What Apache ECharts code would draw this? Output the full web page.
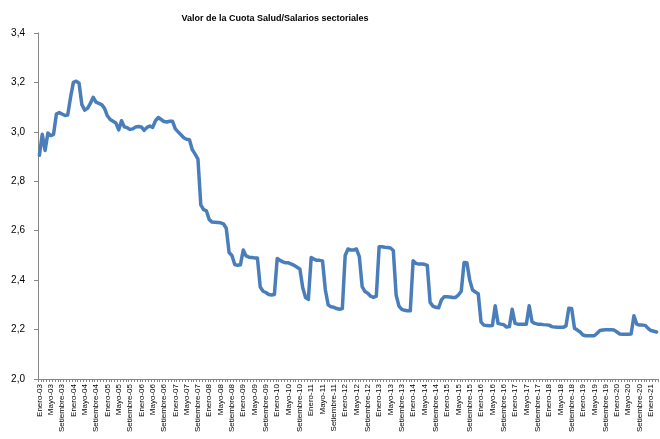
<!DOCTYPE html>
<html>
<head>
<meta charset="utf-8">
<script src="https://cdn.jsdelivr.net/npm/echarts@6/dist/echarts.min.js"></script>
<style>
  html, body { margin: 0; padding: 0; background: #fff; }
  #chart { width: 660px; height: 439px; }
</style>
</head>
<body>
<div id="chart"></div>
<script>
// --- Data ---
const monthNames = ['Enero', 'Febrero', 'Marzo', 'Abril', 'Mayo', 'Junio',
    'Julio', 'Agosto', 'Setiembre', 'Octubre', 'Noviembre', 'Diciembre'];
const years = ['03', '04', '05', '06', '07', '08', '09', '10', '11', '12',
    '13', '14', '15', '16', '17', '18', '19', '20', '21'];

// Cuota Salud / Salarios sectoriales, monthly from Enero-03 to Marzo-21
const cuotaSalud = [
    2.905, 2.99, 2.925, 2.995, 2.985, 2.99, 3.072, 3.078, 3.072, 3.066, 3.068, 3.14,     // 2003
    3.2, 3.205, 3.197, 3.11, 3.088, 3.095, 3.115, 3.14, 3.12, 3.115, 3.11, 3.095,         // 2004
    3.065, 3.05, 3.043, 3.036, 3.008, 3.045, 3.02, 3.017, 3.01, 3.012, 3.02, 3.022,       // 2005
    3.02, 3.006, 3.018, 3.024, 3.018, 3.045, 3.058, 3.05, 3.042, 3.04, 3.043, 3.043,      // 2006
    3.012, 3.0, 2.988, 2.976, 2.97, 2.968, 2.928, 2.91, 2.89, 2.705, 2.685, 2.68,         // 2007
    2.645, 2.635, 2.634, 2.633, 2.632, 2.628, 2.61, 2.512, 2.5, 2.463, 2.46, 2.462,       // 2008
    2.522, 2.498, 2.493, 2.492, 2.49, 2.49, 2.372, 2.355, 2.35, 2.342, 2.34, 2.342,       // 2009
    2.488, 2.48, 2.474, 2.47, 2.47, 2.465, 2.46, 2.452, 2.445, 2.37, 2.33, 2.322,         // 2010
    2.492, 2.485, 2.48, 2.48, 2.478, 2.36, 2.3, 2.292, 2.29, 2.285, 2.282, 2.285,         // 2011
    2.5, 2.526, 2.522, 2.522, 2.526, 2.495, 2.374, 2.354, 2.347, 2.335, 2.33, 2.335,      // 2012
    2.535, 2.535, 2.533, 2.532, 2.53, 2.52, 2.34, 2.295, 2.282, 2.278, 2.276, 2.276,      // 2013
    2.478, 2.468, 2.465, 2.465, 2.464, 2.46, 2.31, 2.295, 2.29, 2.288, 2.32, 2.333,       // 2014
    2.333, 2.332, 2.33, 2.33, 2.34, 2.355, 2.471, 2.47, 2.40, 2.36, 2.352, 2.345,         // 2015
    2.23, 2.218, 2.216, 2.215, 2.216, 2.296, 2.225, 2.222, 2.22, 2.21, 2.212, 2.282,      // 2016
    2.225, 2.222, 2.222, 2.222, 2.222, 2.296, 2.232, 2.225, 2.222, 2.222, 2.22, 2.219,    // 2017
    2.218, 2.212, 2.21, 2.209, 2.209, 2.209, 2.215, 2.286, 2.285, 2.205, 2.198, 2.19,     // 2018
    2.178, 2.175, 2.175, 2.175, 2.175, 2.185, 2.196, 2.198, 2.199, 2.199, 2.199, 2.198,   // 2019
    2.19, 2.182, 2.181, 2.181, 2.181, 2.182, 2.256, 2.222, 2.218, 2.218, 2.217, 2.205,    // 2020
    2.196, 2.193, 2.19                                                                    // 2021
];

// category labels "Mes-AA", one per data point
const categories = [];
years.forEach((yy) => {
    monthNames.forEach((mes) => {
        if (categories.length < cuotaSalud.length) categories.push(`${mes}-${yy}`);
    });
});

// --- Chart ---
const chart = echarts.init(document.getElementById('chart'), null, { renderer: 'canvas' });

const option = {
    animation: false,
    backgroundColor: '#ffffff',
    title: {
        text: 'Valor de la Cuota Salud/Salarios sectoriales',
        left: 270,
        top: 9,
        textAlign: 'center',
        textStyle: {
            fontFamily: 'Liberation Sans',
            fontWeight: 'bold',
            fontSize: 9,
            color: '#000'
        }
    },
    grid: { left: 38, right: 2, top: 33, bottom: 60 },
    xAxis: {
        type: 'category',
        data: categories,
        boundaryGap: true,
        axisLine: { lineStyle: { color: '#868686', width: 1 } },
        axisTick: { show: true, interval: 0, length: 3, lineStyle: { color: '#868686' } },
        axisLabel: {
            interval: 3,
            rotate: 90,
            margin: 5,
            fontFamily: 'Liberation Sans',
            fontSize: 8,
            color: '#000'
        },
        splitLine: { show: false }
    },
    yAxis: {
        type: 'value',
        min: 2.0,
        max: 3.4,
        interval: 0.2,
        axisLine: { show: true, lineStyle: { color: '#868686', width: 1 } },
        axisTick: { show: true, length: 4, lineStyle: { color: '#868686' } },
        axisLabel: {
            margin: 13,
            fontFamily: 'Liberation Sans',
            fontSize: 10,
            color: '#000',
            formatter: (v) => v.toFixed(1).replace('.', ',')
        },
        splitLine: { show: false }
    },
    series: [{
        type: 'line',
        data: cuotaSalud,
        showSymbol: false,
        smooth: false,
        lineStyle: { color: '#4a7ebb', width: 3.5, join: 'round', cap: 'round' }
    }]
};

chart.setOption(option);
</script>
</body>
</html>
